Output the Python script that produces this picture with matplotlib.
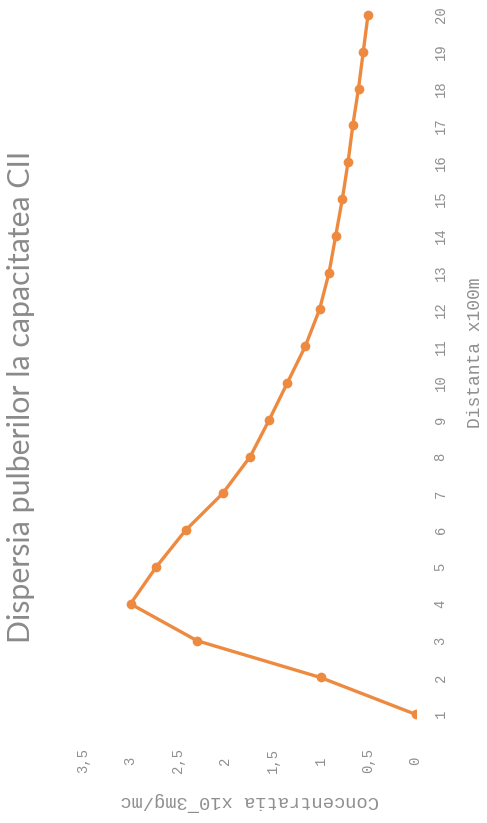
import matplotlib
matplotlib.use("Agg")
import matplotlib.pyplot as plt
from matplotlib.ticker import FuncFormatter

# Dust dispersion data
distance = list(range(1, 21))  # x100 m
concentration = [0.0, 1.0, 2.3, 3.0, 2.73, 2.42, 2.03, 1.74, 1.54, 1.35,
                 1.16, 1.01, 0.91, 0.84, 0.77, 0.71, 0.66, 0.60, 0.55, 0.50]
conc_ticks = [0, 0.5, 1, 1.5, 2, 2.5, 3, 3.5]

title = "Dispersia pulberilor la capacitatea CII"
dist_label = "Distanta x100m"
conc_label = "Concentratia x10¯3mg/mc"

mono = ['Liberation Mono', 'DejaVu Sans Mono']
text_gray = "#8f8f8f"
line_color = "#ED8A3F"

fig = plt.figure(figsize=(4.87, 8.23), dpi=100)
W, H = 487, 823
left_px, right_px = 83, 415.5
top_px, bottom_px = -3.4, 732.7
ax = fig.add_axes([left_px / W, 1 - bottom_px / H,
                   (right_px - left_px) / W, (bottom_px - top_px) / H])

# Chart is laid out turned a quarter turn: concentration runs right-to-left,
# distance runs bottom-to-top.
ax.plot(concentration, distance, color=line_color, lw=2.4,
        marker='o', ms=7, markeredgewidth=0, solid_capstyle='round')

ax.set_xlim(3.5, 0)
ax.set_ylim(0.5, 20.5)
ax.set_xticks(conc_ticks)
ax.xaxis.set_major_formatter(FuncFormatter(lambda v, p: f"{v:g}".replace('.', ',')))
ax.set_yticks(distance)
ax.set_yticklabels([str(d) for d in distance])
ax.yaxis.tick_right()
ax.yaxis.set_label_position('right')

for s in ax.spines.values():
    s.set_visible(False)
ax.tick_params(axis='both', length=0, colors=text_gray, labelsize=10)
ax.tick_params(axis='x', pad=20)
ax.tick_params(axis='y', pad=18)
for lbl in ax.get_xticklabels() + ax.get_yticklabels():
    lbl.set_rotation(90)
    lbl.set_va('center')
    lbl.set_ha('center')
    lbl.set_family(mono)

ax.set_xlabel(conc_label, rotation=180, color=text_gray, fontsize=13.5,
              family=mono, labelpad=14)
ax.set_ylabel(dist_label, rotation=90, color=text_gray, fontsize=13,
              family=mono, va='center', ha='center')
ax.yaxis.set_label_coords(1.18, 0.516)

fig.text(21 / W, 1 - 397 / H, title, rotation=90, ha='center', va='center',
         color="#8a8a8a", fontsize=21.8, family=['Lato', 'DejaVu Sans'])

fig.savefig("out.png", dpi=100, facecolor='white')
